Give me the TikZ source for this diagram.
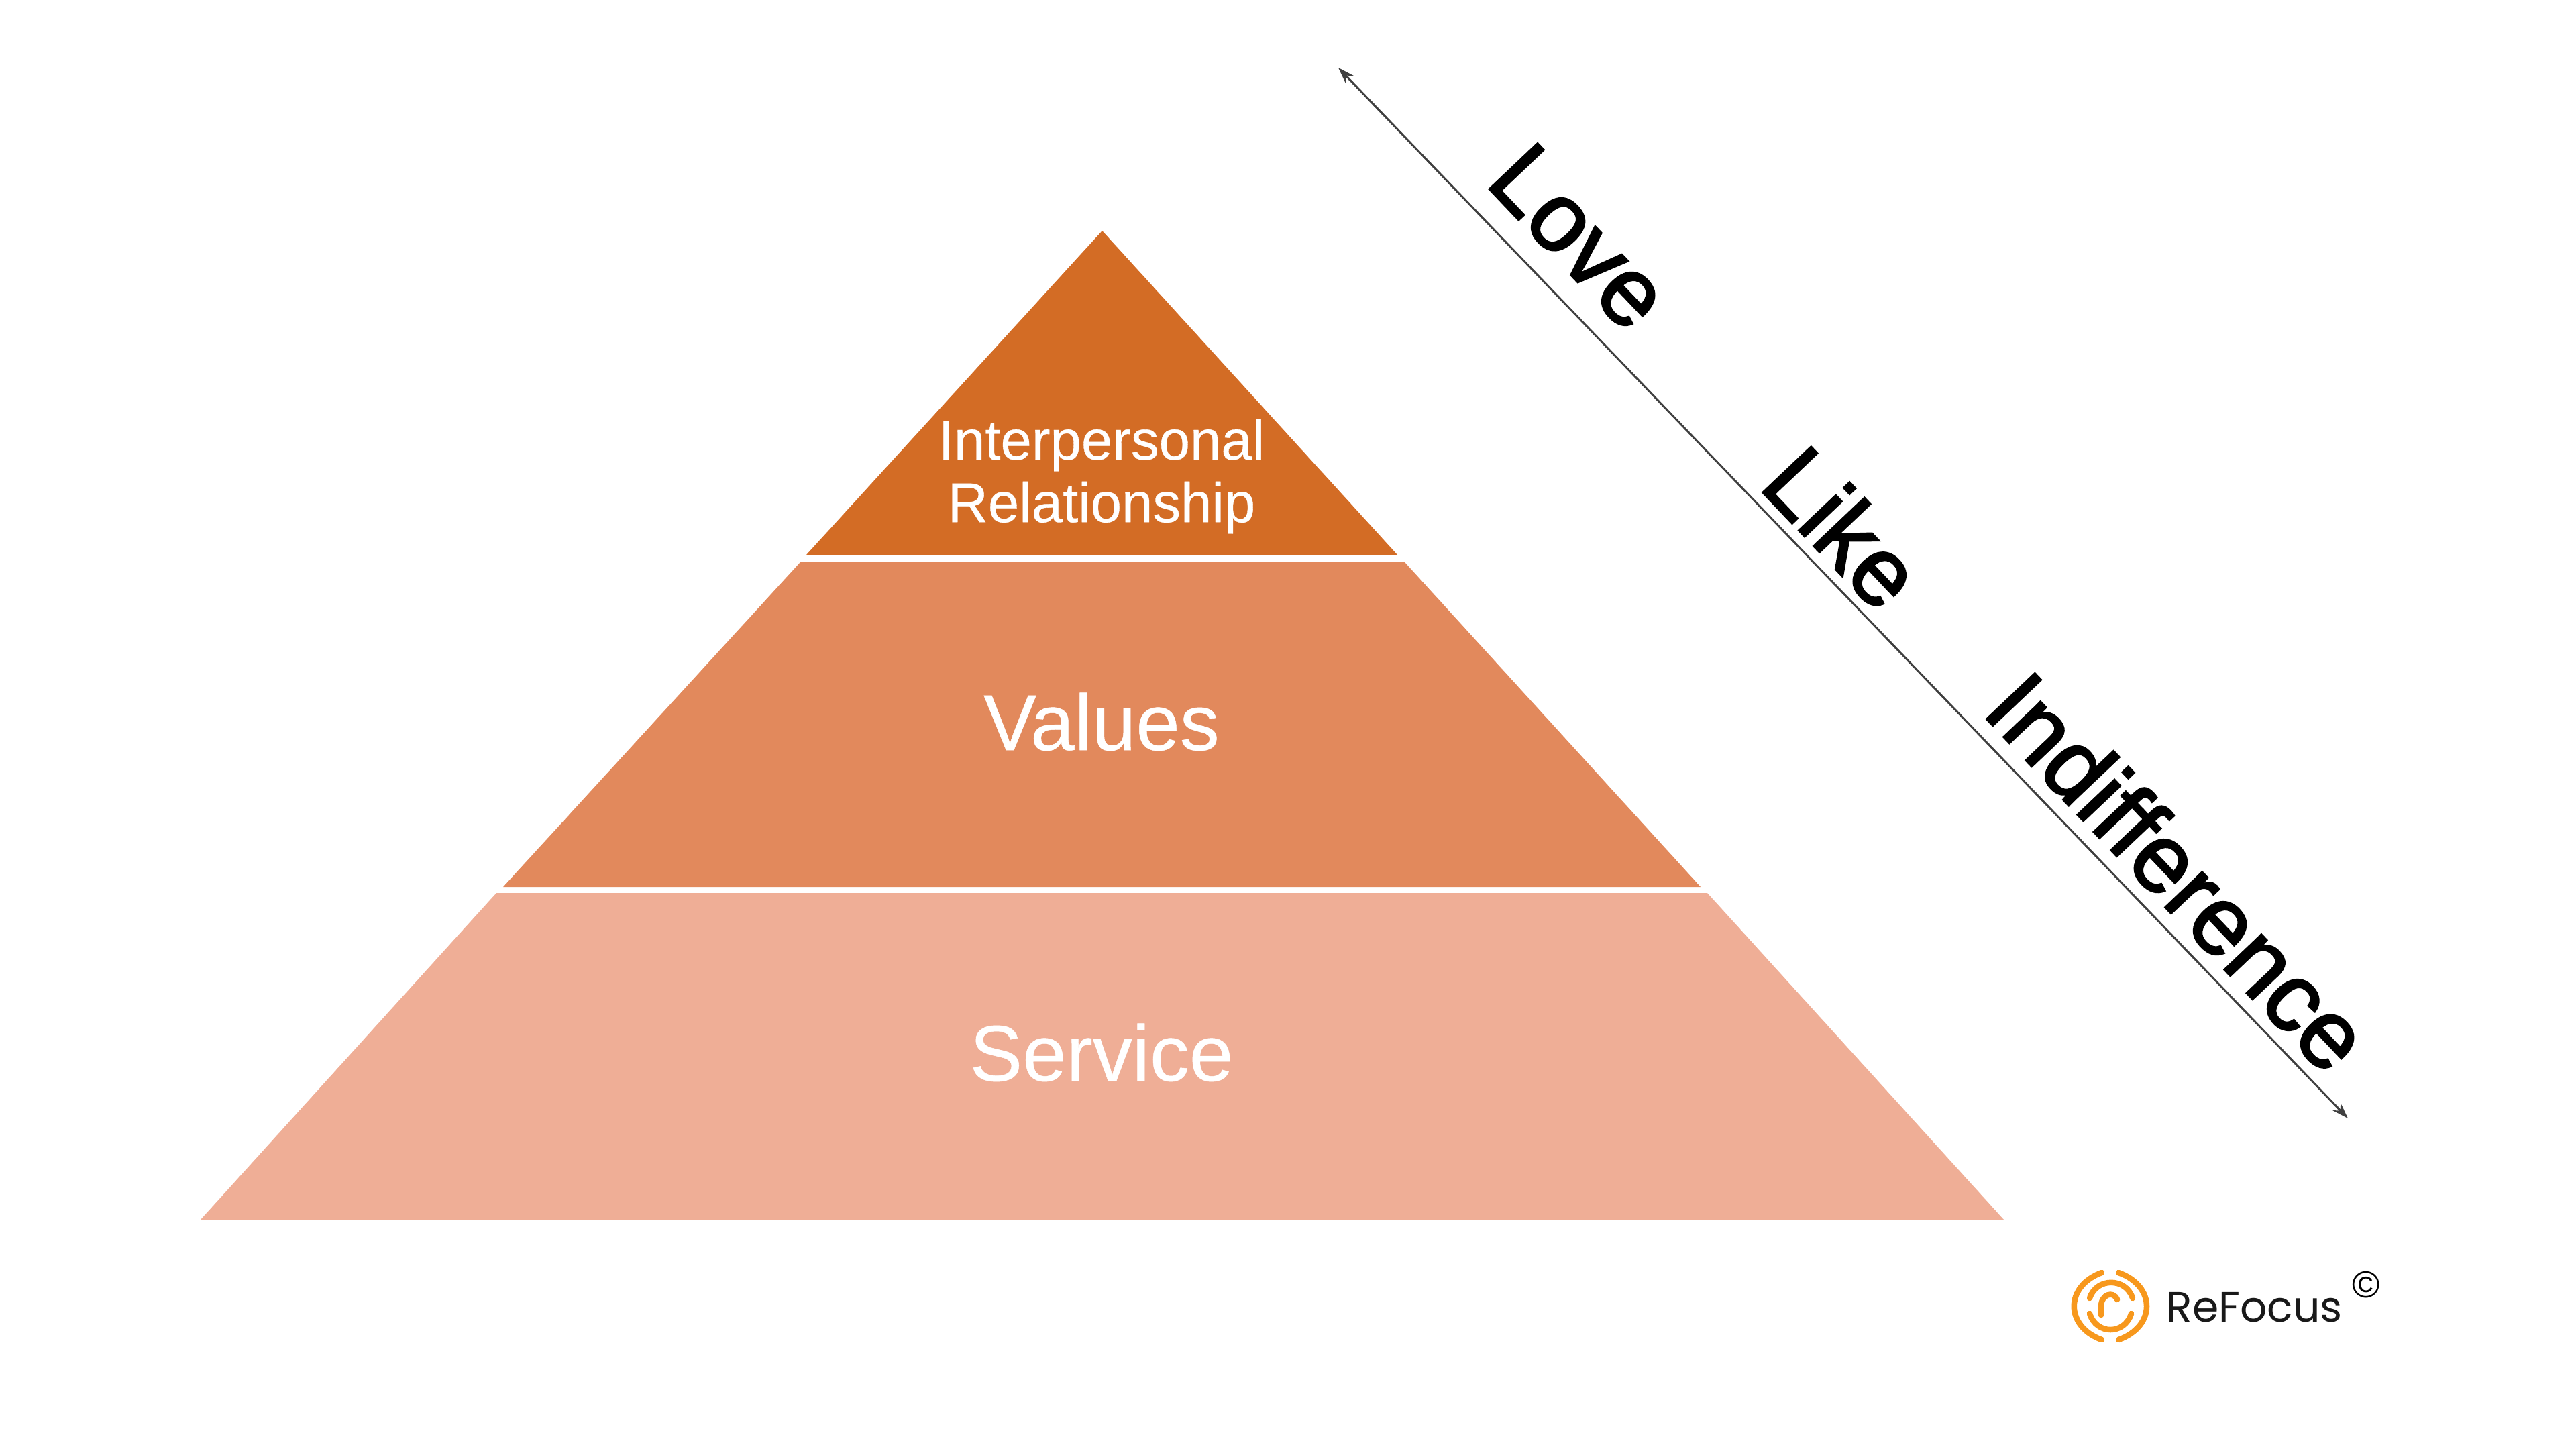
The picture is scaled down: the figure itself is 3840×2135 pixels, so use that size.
\documentclass[tikz,border=0pt]{standalone}
\usepackage{fontspec}
\setmainfont{Liberation Sans}
\newfontfamily\logofont{Poppins}
\newfontfamily\labelfont[FakeBold=0.4]{Liberation Sans}
\newfontfamily\slopefont[FakeBold=2]{Liberation Sans}
\usetikzlibrary{arrows.meta}
\definecolor{bandtop}{HTML}{D36C25}
\definecolor{bandmid}{HTML}{E2895C}
\definecolor{bandlow}{HTML}{EFAE96}
\definecolor{logoorange}{HTML}{F7981D}
\definecolor{axisgray}{HTML}{404040}
\tikzset{
  x=0.01cm,y=-0.01cm,
  bandlabel/.style={text=white,inner sep=0pt,align=center},
  slopelabel/.style={text=black,inner sep=0pt,rotate=-46.5,font=\slopefont\fontsize{41}{45}\selectfont},
  axisline/.style={draw=axisgray,line width=0.03cm,{Stealth[length=0.24cm,width=0.16cm]}-{Stealth[length=0.24cm,width=0.16cm]}},
  logoarc/.style={draw=logoorange,line width=0.085cm,line cap=round},
}
\begin{document}
\begin{tikzpicture}
\useasboundingbox (0,0) rectangle (3840,2135);
\fill[white] (0,0) rectangle (3840,2135);
% pyramid bands
\fill[bandtop] (1643,344) -- (2083,827) -- (1202,827) -- cycle;
\fill[bandmid] (1193,838) -- (2094,838) -- (2535,1322) -- (750,1322) -- cycle;
\fill[bandlow] (740,1331) -- (2545,1331) -- (2987,1818) -- (299,1818) -- cycle;
% band labels
\node[bandlabel,font=\labelfont\fontsize{23.7}{26.5}\selectfont] (rel) at (1642,710) {Interpersonal\\Relationship};
\node[bandlabel,anchor=base,font=\labelfont\fontsize{33.5}{36}\selectfont] (val) at (1642,1118) {Values};
\node[bandlabel,anchor=base,font=\labelfont\fontsize{33.5}{36}\selectfont] (srv) at (1642,1611) {Service};
% axis
\coordinate (axistop) at (1995,101);
\coordinate (axisend) at (3500,1667);
\draw[axisline] (axistop) -- (axisend);
\node[slopelabel] (love) at (2355,353) {Love};
\node[slopelabel] (like) at (2748,786) {Like};
\node[slopelabel] (ind) at (3248,1299) {Indifference};
% logo
\draw[logoarc] (3133,1897) .. controls (3078,1917) and (3078,1977) .. (3133,1997);
\draw[logoarc] (3158,1897) .. controls (3214,1917) and (3214,1977) .. (3158,1997);
\draw[logoarc] (3115,1935) .. controls (3125,1904) and (3169,1904) .. (3179,1935);
\draw[logoarc] (3115,1958) .. controls (3125,1990) and (3167,1990) .. (3177,1958);
\draw[logoarc] (3132,1960) -- (3132,1947) .. controls (3132,1930) and (3150,1923) .. (3156,1937);
\node[anchor=base west,inner sep=0pt,text=black!90,font=\logofont\fontsize{18}{22}\selectfont] (brand) at (3229,1970) {ReFocus};
\node[inner sep=0pt,text=black,font=\fontsize{16}{18}\selectfont] (copy) at (3527,1915) {©};
\end{tikzpicture}
\end{document}
